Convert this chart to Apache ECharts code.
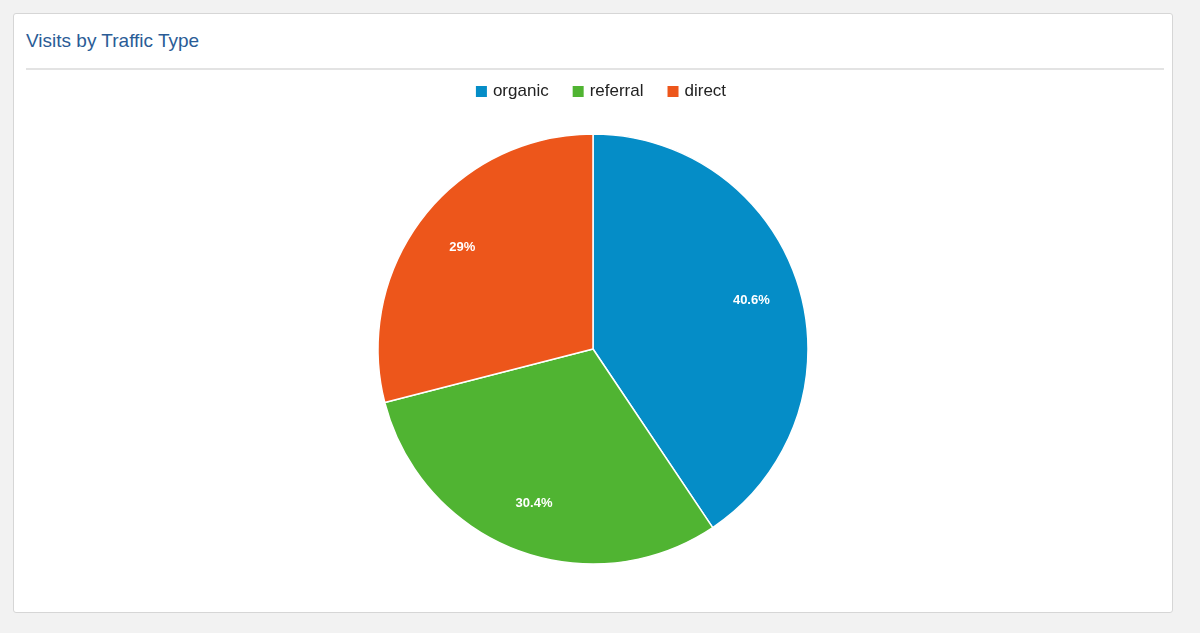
<!DOCTYPE html>
<html><head><meta charset="utf-8">
<script src="https://cdn.jsdelivr.net/npm/echarts@6/dist/echarts.min.js"></script>
<style>
html,body{margin:0;padding:0;background:#f2f2f2;}
#box{position:absolute;left:13px;top:13px;width:1158px;height:598px;background:#fff;border:1px solid #d6d6d6;border-radius:3px;}
#title{position:absolute;left:12px;top:16px;font:19px "Liberation Sans",Arial,sans-serif;color:#2a5c96;}
#rule{position:absolute;left:12px;right:8px;top:54px;border-top:2px solid #e3e3e3;}
#chart{position:absolute;left:0;top:0;width:1200px;height:633px;}
</style></head><body>
<div id="box"><div id="title">Visits by Traffic Type</div><div id="rule"></div></div>
<div id="chart"></div>
<script>
const categories = ["organic","referral","direct"];
const values = [40.6, 30.4, 29];
const colors = ["#058dc7","#50b432","#ed561b"];
const data = categories.map((c,i)=>({name:c,value:values[i]}));
const chart = echarts.init(document.getElementById('chart'));
chart.setOption({
  animation:false,
  color:colors,
  legend:{top:78,left:'center',itemWidth:13,itemHeight:13,icon:'rect',itemGap:22,
    textStyle:{fontSize:17,color:'#222',fontFamily:'Liberation Sans, Arial, sans-serif'},data:categories},
  series:[
    {type:'pie',center:[593,349],radius:[0,215],startAngle:90,clockwise:true,
     itemStyle:{borderColor:'#fff',borderWidth:1.5},label:{show:false},labelLine:{show:false},data:data},
    {type:'pie',center:[593,349],radius:[110,215],startAngle:90,clockwise:true,silent:true,
     itemStyle:{color:'rgba(0,0,0,0)'},labelLine:{show:false},
     label:{show:true,position:'inside',formatter:p=>p.value+'%',color:'#fff',fontWeight:'bold',fontSize:13,
       fontFamily:'Liberation Sans, Arial, sans-serif'},data:data}
  ]
});
</script></body></html>
